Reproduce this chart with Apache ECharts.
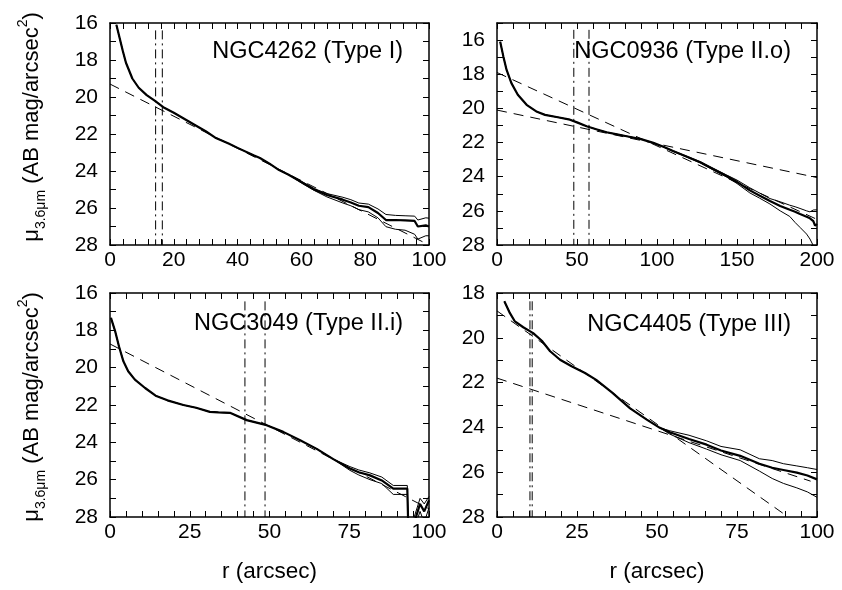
<!DOCTYPE html>
<html>
<head>
<meta charset="utf-8">
<script src="https://cdn.jsdelivr.net/npm/echarts@6/dist/echarts.min.js"></script>
<style>
html,body{margin:0;padding:0;background:#fff;}
#main{width:842px;height:590px;}
</style>
</head>
<body>
<div id="main"></div>
<script>
// NGC4262 (Type I)
var r1 = [2, 3, 4, 5, 7, 9, 11.5, 14, 16.7, 20, 23.5, 27, 30, 33, 37, 40, 45, 47, 50, 53, 56, 60, 64, 68, 73, 75.5, 78, 81, 84, 86.5, 89.5, 92.5, 95.5, 96.5, 99, 100];
var mu1 = [16.1, 16.8, 17.5, 18.15, 19.0, 19.5, 19.9, 20.2, 20.55, 20.85, 21.2, 21.55, 21.85, 22.2, 22.5, 22.75, 23.15, 23.3, 23.6, 23.95, 24.2, 24.6, 25.0, 25.3, 25.55, 25.7, 25.88, 25.95, 26.27, 26.65, 26.65, 26.67, 26.7, 27.0, 26.94, 27.0];
var hi1 = [16.1, 16.8, 17.5, 18.15, 19.0, 19.5, 19.9, 20.2, 20.55, 20.85, 21.2, 21.55, 21.85, 22.2, 22.5, 22.75, 23.15, 23.3, 23.6, 23.95, 24.2, 24.55, 24.95, 25.22, 25.42, 25.55, 25.73, 25.79, 26.05, 26.35, 26.4, 26.42, 26.44, 26.65, 26.53, 26.55];
var lo1 = [16.1, 16.8, 17.5, 18.15, 19.0, 19.5, 19.9, 20.2, 20.55, 20.85, 21.2, 21.55, 21.85, 22.2, 22.5, 22.75, 23.15, 23.3, 23.6, 23.95, 24.2, 24.65, 25.05, 25.4, 25.73, 25.88, 26.09, 26.21, 26.53, 27.01, 27.15, 27.2, 27.42, 27.68, 27.5, 27.5];
var fit1 = [[[0, 19.3], [100, 28.0]]];
var brk1 = [14.3, 16.4];

// NGC0936 (Type II.o)
var r2 = [2, 4, 6, 9, 13, 18.5, 25, 30, 38, 45.6, 50, 56, 62, 68.5, 75, 81, 90, 97.7, 104, 110, 118, 127, 135, 143.5, 150, 158, 164, 170.6, 177, 183, 186.3, 189.4, 193.5, 195.6, 197.7, 198.8, 200];
var mu2 = [16.1, 16.97, 17.75, 18.52, 19.2, 19.79, 20.2, 20.38, 20.52, 20.66, 20.82, 21.05, 21.22, 21.4, 21.52, 21.63, 21.8, 22.02, 22.25, 22.5, 22.8, 23.15, 23.55, 23.96, 24.3, 24.8, 25.1, 25.42, 25.71, 25.94, 26.05, 26.19, 26.35, 26.44, 26.6, 26.87, 26.77];
var hi2 = [16.1, 16.97, 17.75, 18.52, 19.2, 19.79, 20.2, 20.38, 20.52, 20.66, 20.82, 21.05, 21.22, 21.4, 21.52, 21.63, 21.8, 22.02, 22.24, 22.48, 22.78, 23.12, 23.5, 23.9, 24.2, 24.65, 24.95, 25.28, 25.47, 25.67, 25.76, 25.86, 26.0, 26.06, 25.95, 25.94, 25.94];
var lo2 = [16.1, 16.97, 17.75, 18.52, 19.2, 19.79, 20.2, 20.38, 20.52, 20.66, 20.82, 21.05, 21.22, 21.4, 21.52, 21.63, 21.8, 22.02, 22.26, 22.52, 22.83, 23.19, 23.6, 24.02, 24.4, 24.95, 25.25, 25.6, 26.0, 26.33, 26.68, 26.97, 27.36, 27.65, 28.04, 28.3, 28.6];
var fit2 = [[[0, 20.1], [200, 24.05]], [[0, 17.9], [200, 26.5]]];
var brk2 = [48, 57.5];

// NGC3049 (Type II.i)
var r3 = [0.3, 1.6, 2.8, 4.2, 5.7, 7.8, 11, 14.3, 18, 23, 27, 31.3, 34, 37.6, 42.85, 49.1, 54.3, 59.6, 64.8, 70, 75.2, 78, 81.5, 85.2, 88.8, 93.2, 93.5, 95, 97.2, 98.5, 100];
var mu3 = [17.33, 18.04, 18.85, 19.66, 20.19, 20.64, 21.09, 21.5, 21.75, 22.0, 22.15, 22.37, 22.4, 22.42, 22.81, 23.08, 23.44, 23.89, 24.35, 24.9, 25.4, 25.6, 25.77, 26.04, 26.48, 26.48, 28.5, 28.5, 27.3, 27.7, 27.1];
var hi3 = [17.33, 18.04, 18.85, 19.66, 20.19, 20.64, 21.09, 21.5, 21.75, 22.0, 22.15, 22.37, 22.4, 22.42, 22.81, 23.08, 23.44, 23.89, 24.35, 24.9, 25.3, 25.48, 25.64, 25.86, 26.31, 26.31, 28.5, 28.2, 27.0, 27.3, 26.9];
var lo3 = [17.33, 18.04, 18.85, 19.66, 20.19, 20.64, 21.09, 21.5, 21.75, 22.0, 22.15, 22.37, 22.4, 22.42, 22.81, 23.08, 23.44, 23.89, 24.35, 24.9, 25.5, 25.75, 26.0, 26.21, 26.79, 26.79, 28.5, 28.8, 27.7, 28.3, 27.5];
var fit3 = [[[0, 18.73], [100, 27.56]]];
var brk3 = [42.3, 48.6];

// NGC4405 (Type III)
var r4 = [2.3, 4, 5.6, 8.2, 11.3, 14, 16.6, 19.7, 23.3, 27.5, 31, 36, 41.6, 46.8, 50.9, 54, 60, 65.5, 70, 76, 82, 86, 89.5, 93.7, 97, 100];
var mu4 = [18.37, 18.89, 19.27, 19.53, 19.79, 20.13, 20.6, 20.98, 21.27, 21.57, 21.88, 22.45, 23.15, 23.65, 24.02, 24.22, 24.52, 24.77, 25.03, 25.27, 25.62, 25.8, 25.9, 26.02, 26.15, 26.32];
var hi4 = [18.37, 18.89, 19.27, 19.53, 19.79, 20.13, 20.6, 20.98, 21.27, 21.57, 21.88, 22.45, 23.15, 23.65, 24.02, 24.15, 24.35, 24.6, 24.85, 25.0, 25.4, 25.48, 25.62, 25.72, 25.8, 25.88];
var lo4 = [18.37, 18.89, 19.27, 19.53, 19.79, 20.13, 20.6, 20.98, 21.27, 21.57, 21.88, 22.45, 23.15, 23.65, 24.02, 24.3, 24.68, 24.97, 25.22, 25.48, 25.95, 26.28, 26.5, 26.7, 26.88, 27.12];
var fit4 = [[[0, 18.8], [91, 28]], [[0, 21.8], [98, 26.4]]];
var brk4 = [10.3, 11.0];

var titles = ['NGC4262 (Type I)', 'NGC0936 (Type II.o)', 'NGC3049 (Type II.i)', 'NGC4405 (Type III)'];
var xMax = [100, 200, 100, 100];
var xStep = [4, 10, 5, 5];     // tick spacing
var xLabStep = [20, 50, 25, 25];
var yMin = [16, 15, 16, 18];
var yMax = 28;
var brkTop = [16.4, 15.4, 16.45, 18.37]; // where the break markers start

var panels = [
	{r: r1, mu: mu1, hi: hi1, lo: lo1, fit: fit1, brk: brk1},
	{r: r2, mu: mu2, hi: hi2, lo: lo2, fit: fit2, brk: brk2},
	{r: r3, mu: mu3, hi: hi3, lo: lo3, fit: fit3, brk: brk3},
	{r: r4, mu: mu4, hi: hi4, lo: lo4, fit: fit4, brk: brk4}
];

var FONT = '"Liberation Sans", Arial, Helvetica, sans-serif';
var grids = [
	{left: 110, top: 23, width: 319, height: 222},
	{left: 497, top: 23, width: 320, height: 222},
	{left: 110, top: 293, width: 319, height: 224},
	{left: 497, top: 293, width: 320, height: 224}
];
var textPos = [[403, 52], [791, 52], [403, 324], [791, 325]];

function pairs(r, v)
{
	var out = [];
	for (var i = 0; i < r.length; i++) out.push([r[i], v[i]]);
	return out;
}

function lineSeries(k, data, width, dash)
{
	return {
		type: 'line',
		xAxisIndex: 2 * k,
		yAxisIndex: 2 * k,
		data: data,
		symbol: 'none',
		showSymbol: false,
		silent: true,
		lineStyle: {color: '#000', width: width, type: dash || 'solid'},
		z: width > 1.5 ? 4 : 3
	};
}

var xAxes = [], yAxes = [], series = [], graphics = [];

for (var k = 0; k < 4; k++)
{
	(function (k) {
		var frame = {show: true, onZero: false, lineStyle: {color: '#000', width: 1.5}};
		var tick = {show: true, inside: true, length: 6, lineStyle: {color: '#000', width: 1}};
		var bottom = {
			type: 'value', gridIndex: k, position: 'bottom',
			min: 0, max: xMax[k], interval: xStep[k],
			axisLine: frame, axisTick: tick, splitLine: {show: false},
			axisLabel: {
				margin: 5, fontSize: 21, fontFamily: FONT, color: '#000',
				formatter: function (v) { return v % xLabStep[k] === 0 ? String(v) : ''; }
			}
		};
		if (k >= 2) {
			bottom.name = 'r (arcsec)';
			bottom.nameLocation = 'middle';
			bottom.nameGap = 43;
			bottom.nameTextStyle = {fontSize: 22.5, fontFamily: FONT, color: '#000'};
		}
		xAxes.push(bottom);
		xAxes.push({
			type: 'value', gridIndex: k, position: 'top',
			min: 0, max: xMax[k], interval: xStep[k],
			axisLine: frame, axisTick: tick, splitLine: {show: false},
			axisLabel: {show: false}
		});
		yAxes.push({
			type: 'value', gridIndex: k, position: 'left', inverse: true,
			min: yMin[k], max: yMax, interval: 1,
			axisLine: frame, axisTick: tick, splitLine: {show: false},
			axisLabel: {
				margin: 12, fontSize: 21, fontFamily: FONT, color: '#000',
				formatter: function (v) { return v % 2 === 0 ? String(v) : ''; }
			}
		});
		yAxes.push({
			type: 'value', gridIndex: k, position: 'right', inverse: true,
			min: yMin[k], max: yMax, interval: 1,
			axisLine: frame, axisTick: tick, splitLine: {show: false},
			axisLabel: {show: false}
		});

		var p = panels[k];
		// error bounds (thin) then profile (thick)
		series.push(lineSeries(k, pairs(p.r, p.hi), 1));
		series.push(lineSeries(k, pairs(p.r, p.lo), 1));
		series.push(lineSeries(k, pairs(p.r, p.mu), 2.2));
		for (var j = 0; j < p.fit.length; j++)
			series.push(lineSeries(k, p.fit[j], 1, [10, 7]));
		for (var j = 0; j < p.brk.length; j++)
			series.push(lineSeries(k, [[p.brk[j], brkTop[k]], [p.brk[j], yMax]], 1, [9, 4, 2, 4]));

		graphics.push({
			type: 'text', x: textPos[k][0], y: textPos[k][1], silent: true,
			style: {text: titles[k], fontSize: 23.5, fontFamily: FONT, fill: '#000', align: 'right', verticalAlign: 'middle'}
		});
	})(k);
}

// y axis names, left column only
var yName = '{m|\u03bc}{s|3.6\u03bcm}{m| (AB mag/arcsec}{p|2}{m|)}';
var yRich = {
	m: {fontSize: 22, fontFamily: FONT, lineHeight: 32, color: '#000'},
	s: {fontSize: 14, fontFamily: FONT, lineHeight: 20, verticalAlign: 'bottom', color: '#000'},
	p: {fontSize: 14, fontFamily: FONT, lineHeight: 12, verticalAlign: 'top', color: '#000'}
};
var yNamePos = [[32, 127], [32, 407]];
for (var i = 0; i < yNamePos.length; i++)
{
	graphics.push({
		type: 'text', x: yNamePos[i][0], y: yNamePos[i][1], rotation: Math.PI / 2, silent: true,
		style: {text: yName, rich: yRich, align: 'center', verticalAlign: 'middle', fill: '#000'}
	});
}

var mychart = echarts.init(document.getElementById('main'), null, {renderer: 'canvas'});
mychart.setOption({
	backgroundColor: '#fff',
	animation: false,
	grid: grids,
	xAxis: xAxes,
	yAxis: yAxes,
	series: series,
	graphic: graphics
});
</script>
</body>
</html>
